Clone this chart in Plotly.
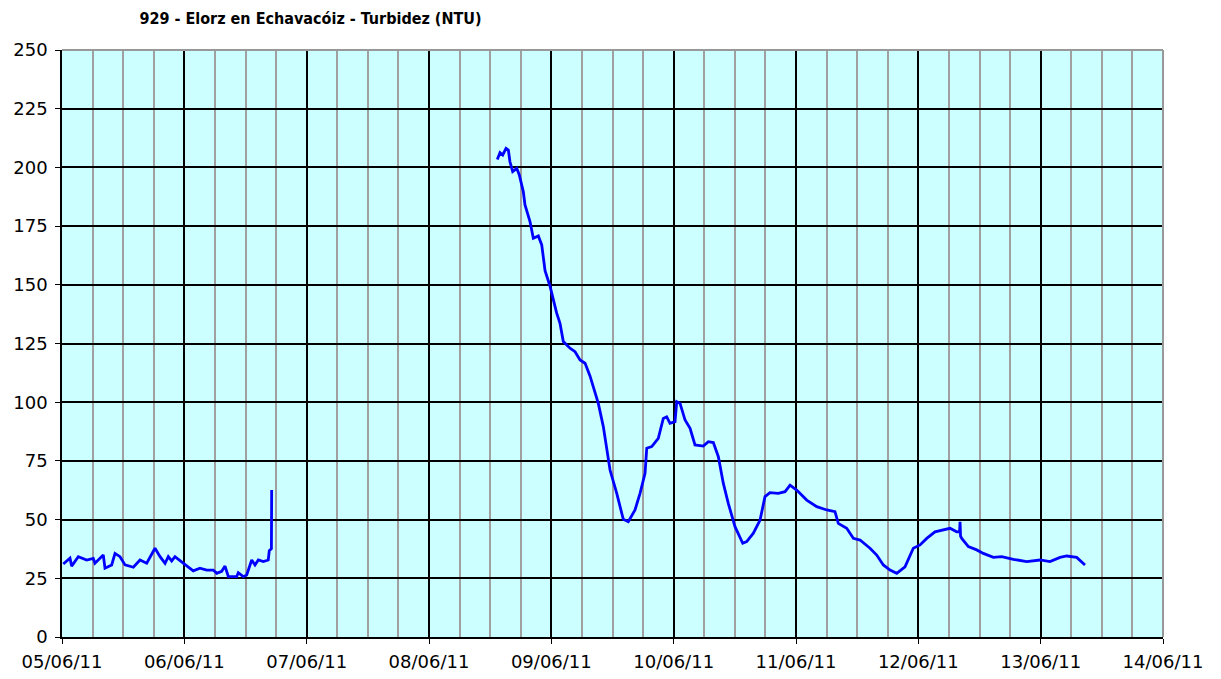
import plotly.graph_objects as go

# Segment 1 (05/06 - 06/06)
times_a = ["2011-06-05 00:15", "2011-06-05 01:34", "2011-06-05 01:54", "2011-06-05 03:12",
           "2011-06-05 04:51", "2011-06-05 06:08", "2011-06-05 06:28", "2011-06-05 08:06",
           "2011-06-05 08:26", "2011-06-05 09:45", "2011-06-05 10:24", "2011-06-05 11:23",
           "2011-06-05 12:22", "2011-06-05 14:00", "2011-06-05 15:18", "2011-06-05 16:37",
           "2011-06-05 18:15", "2011-06-05 19:14", "2011-06-05 20:13", "2011-06-05 20:51",
           "2011-06-05 21:31", "2011-06-05 22:10", "2011-06-05 23:09", "2011-06-06 00:28",
           "2011-06-06 01:45", "2011-06-06 03:04", "2011-06-06 04:23", "2011-06-06 05:41",
           "2011-06-06 06:21", "2011-06-06 07:20", "2011-06-06 07:59", "2011-06-06 08:38",
           "2011-06-06 10:16", "2011-06-06 10:35", "2011-06-06 11:34", "2011-06-06 12:14",
           "2011-06-06 13:13", "2011-06-06 13:52", "2011-06-06 14:31", "2011-06-06 15:30",
           "2011-06-06 16:28", "2011-06-06 16:40", "2011-06-06 17:05", "2011-06-06 17:08"]
vals_a = [31.1, 33.6, 30.2, 34.2,
          32.8, 33.5, 31.4, 34.9,
          29.3, 30.7, 35.6, 34.2,
          30.7, 29.7, 32.8, 31.4,
          37.8, 34.2, 31.4, 34.2,
          32.4, 34.2, 32.5, 30.2,
          28.2, 29.3, 28.5, 28.5,
          27.1, 28.0, 30.2, 25.7,
          25.7, 27.4, 25.7, 26.4,
          32.8, 30.7, 32.8, 32.1,
          32.8, 36.8, 37.6, 62.6]

# Segment 2 (08/06 - 13/06)
times_b = ["2011-06-08 13:24", "2011-06-08 13:56", "2011-06-08 14:28", "2011-06-08 15:07",
           "2011-06-08 15:34", "2011-06-08 15:53", "2011-06-08 16:25", "2011-06-08 17:13",
           "2011-06-08 17:43", "2011-06-08 18:30", "2011-06-08 18:50", "2011-06-08 19:49",
           "2011-06-08 20:28", "2011-06-08 21:27", "2011-06-08 22:07", "2011-06-08 22:46",
           "2011-06-08 23:44", "2011-06-09 00:23", "2011-06-09 01:03", "2011-06-09 01:42",
           "2011-06-09 02:21", "2011-06-09 03:40", "2011-06-09 04:39", "2011-06-09 05:38",
           "2011-06-09 06:37", "2011-06-09 07:35", "2011-06-09 08:34", "2011-06-09 09:13",
           "2011-06-09 10:12", "2011-06-09 11:31", "2011-06-09 12:50", "2011-06-09 14:07",
           "2011-06-09 15:06", "2011-06-09 16:25", "2011-06-09 17:24", "2011-06-09 18:23",
           "2011-06-09 18:43", "2011-06-09 19:42", "2011-06-09 20:59", "2011-06-09 21:58",
           "2011-06-09 22:38", "2011-06-09 23:17", "2011-06-10 00:16", "2011-06-10 00:36",
           "2011-06-10 01:15", "2011-06-10 02:14", "2011-06-10 03:13", "2011-06-10 04:11",
           "2011-06-10 05:49", "2011-06-10 06:48", "2011-06-10 07:47", "2011-06-10 08:46",
           "2011-06-10 09:44", "2011-06-10 10:43", "2011-06-10 12:02", "2011-06-10 13:33",
           "2011-06-10 14:20", "2011-06-10 15:38", "2011-06-10 16:57", "2011-06-10 17:55",
           "2011-06-10 18:54", "2011-06-10 20:32", "2011-06-10 21:51", "2011-06-10 22:50",
           "2011-06-11 00:08", "2011-06-11 02:06", "2011-06-11 04:04", "2011-06-11 06:02",
           "2011-06-11 07:39", "2011-06-11 08:18", "2011-06-11 09:57", "2011-06-11 11:15",
           "2011-06-11 12:34", "2011-06-11 14:31", "2011-06-11 15:50", "2011-06-11 17:08",
           "2011-06-11 18:27", "2011-06-11 19:46", "2011-06-11 21:23", "2011-06-11 23:01",
           "2011-06-12 00:20", "2011-06-12 01:39", "2011-06-12 03:16", "2011-06-12 04:54",
           "2011-06-12 06:13", "2011-06-12 07:32", "2011-06-12 08:05", "2011-06-12 08:11",
           "2011-06-12 08:17", "2011-06-12 08:31", "2011-06-12 09:49", "2011-06-12 11:27",
           "2011-06-12 12:45", "2011-06-12 14:43", "2011-06-12 16:22", "2011-06-12 18:38",
           "2011-06-12 21:16", "2011-06-12 23:52", "2011-06-13 01:50", "2011-06-13 03:48",
           "2011-06-13 05:07", "2011-06-13 07:04", "2011-06-13 08:03", "2011-06-13 08:42"]
vals_b = [203.4, 206.3, 205.3, 208.1,
          207.4, 202.4, 198.2, 199.6,
          196.8, 189.7, 184.0, 176.9,
          169.8, 170.8, 167.0, 156.0,
          149.5, 143.5, 137.9, 133.6,
          125.8, 123.0, 121.5, 118.0,
          116.6, 111.2, 103.8, 99.5,
          89.6, 71.1, 61.2, 50.1,
          49.1, 54.1, 61.2, 69.7,
          80.4, 81.1, 84.6, 93.1,
          93.8, 91.0, 91.7, 100.2,
          99.5, 92.4, 88.9, 81.8,
          81.3, 83.2, 82.8, 76.8,
          65.5, 56.9, 47.0, 39.9,
          40.6, 44.2, 49.8, 59.8,
          61.5, 61.2, 61.9, 64.7,
          62.6, 58.3, 55.5, 54.1,
          53.4, 48.4, 46.3, 42.0,
          41.3, 37.8, 34.9, 30.7,
          28.5, 27.1, 29.9, 37.8,
          39.2, 42.0, 44.8, 45.6,
          46.3, 44.8, 44.8, 49.1,
          43.0, 42.0, 38.5, 37.1,
          35.6, 33.9, 34.2, 33.1,
          32.1, 32.8, 32.1, 33.9,
          34.5, 33.9, 32.1, 30.7]

title_text = "<b>929 - Elorz en Echavacóiz - Turbidez (NTU)</b>"
x_range = ["2011-06-05 00:00", "2011-06-14 00:00"]
y_range = [0, 250]

times = times_a + [None] + times_b
vals = vals_a + [None] + vals_b

fig = go.Figure()
fig.add_trace(go.Scatter(x=times, y=vals, mode="lines",
                         line=dict(color="#0000FF", width=2.8),
                         connectgaps=False, hoverinfo="x+y"))

# the page body adds an 8px offset; margins compensate for it
fig.update_layout(
    width=1221, height=679,
    margin=dict(l=54, r=66, t=42, b=50, autoexpand=False),
    paper_bgcolor="white", plot_bgcolor="#CCFFFF",
    showlegend=False,
    title=dict(text=title_text, x=302.5 / 1221, xanchor="center", y=1 - 10 / 679, yanchor="middle",
               font=dict(family="Liberation Sans Narrow, DejaVu Sans Condensed, sans-serif", size=16, color="black")),
    font=dict(family="DejaVu Sans, Verdana, sans-serif", size=18, color="black"),
)

fig.update_xaxes(
    type="date", range=x_range,
    dtick=86400000, tick0="2011-06-05", tickformat="%d/%m/%y",
    ticks="outside", ticklen=5, tickcolor="black", tickwidth=1,
    showgrid=True, gridcolor="black", gridwidth=1.5,
    minor=dict(dtick=6 * 3600 * 1000, showgrid=True, gridcolor="#A0A0A0", gridwidth=2, ticks=""),
    showline=True, linecolor="black", linewidth=1.5,
    zeroline=False, tickfont=dict(size=18), ticklabelstandoff=3,
)
fig.update_yaxes(
    range=y_range, dtick=25, tick0=0,
    ticks="outside", ticklen=5, tickcolor="black", tickwidth=1,
    showgrid=True, gridcolor="black", gridwidth=1.5,
    showline=True, linecolor="black", linewidth=1.5,
    zeroline=False, tickfont=dict(size=18), ticklabelstandoff=4,
)

# gray frame on the top and right edges of the plot area
fig.add_shape(type="line", xref="paper", yref="paper", x0=0, x1=1, y0=1, y1=1,
              line=dict(color="#999999", width=2), layer="above")
fig.add_shape(type="line", xref="paper", yref="paper", x0=1, x1=1, y0=0, y1=1,
              line=dict(color="#999999", width=2), layer="above")

fig.write_html("out.html")
